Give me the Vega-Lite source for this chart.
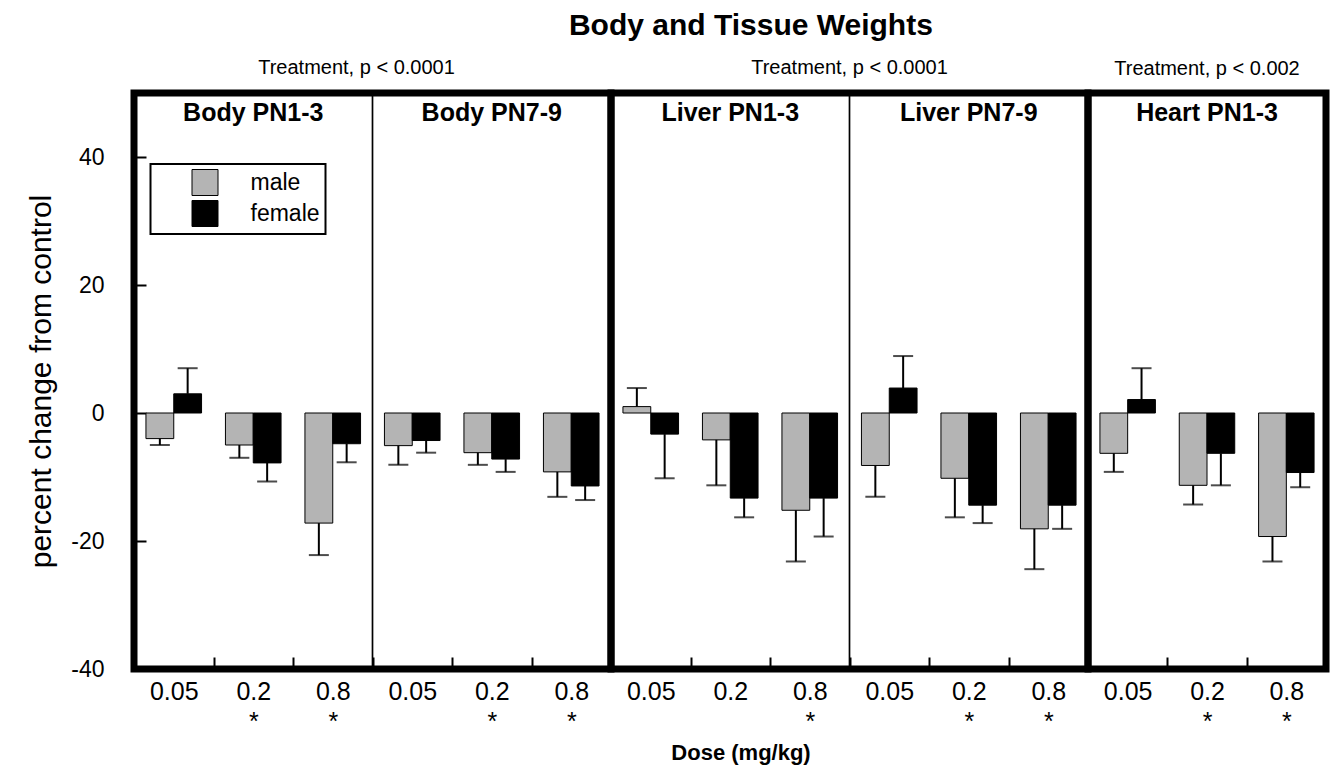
{
  "$schema": "https://vega.github.io/schema/vega-lite/v6.json",
  "background": "white",
  "padding": {"left": 23, "top": 10, "right": 5, "bottom": 5},
  "title": {"text": "Body and Tissue Weights", "fontSize": 30, "fontWeight": "bold", "anchor": "middle", "offset": 14, "dx": 74, "color": "black", "font": "Liberation Sans"},
  "spacing": 0,
  "bounds": "flush",
  "datasets": {
    "weights": [
      {"group": "Body", "panel": "Body PN1-3", "dose": "0.05", "slot": "Body PN1-3|0.05|", "sex": "male", "value": -4, "err": -5},
      {"group": "Body", "panel": "Body PN1-3", "dose": "0.05", "slot": "Body PN1-3|0.05|", "sex": "female", "value": 3, "err": 7},
      {"group": "Body", "panel": "Body PN1-3", "dose": "0.2", "slot": "Body PN1-3|0.2|*", "sex": "male", "value": -5, "err": -7},
      {"group": "Body", "panel": "Body PN1-3", "dose": "0.2", "slot": "Body PN1-3|0.2|*", "sex": "female", "value": -7.8, "err": -10.7},
      {"group": "Body", "panel": "Body PN1-3", "dose": "0.8", "slot": "Body PN1-3|0.8|*", "sex": "male", "value": -17.2, "err": -22.2},
      {"group": "Body", "panel": "Body PN1-3", "dose": "0.8", "slot": "Body PN1-3|0.8|*", "sex": "female", "value": -4.8, "err": -7.7},
      {"group": "Body", "panel": "Body PN7-9", "dose": "0.05", "slot": "Body PN7-9|0.05|", "sex": "male", "value": -5.1, "err": -8.1},
      {"group": "Body", "panel": "Body PN7-9", "dose": "0.05", "slot": "Body PN7-9|0.05|", "sex": "female", "value": -4.3, "err": -6.2},
      {"group": "Body", "panel": "Body PN7-9", "dose": "0.2", "slot": "Body PN7-9|0.2|*", "sex": "male", "value": -6.2, "err": -8.1},
      {"group": "Body", "panel": "Body PN7-9", "dose": "0.2", "slot": "Body PN7-9|0.2|*", "sex": "female", "value": -7.2, "err": -9.2},
      {"group": "Body", "panel": "Body PN7-9", "dose": "0.8", "slot": "Body PN7-9|0.8|*", "sex": "male", "value": -9.2, "err": -13.1},
      {"group": "Body", "panel": "Body PN7-9", "dose": "0.8", "slot": "Body PN7-9|0.8|*", "sex": "female", "value": -11.4, "err": -13.6},
      {"group": "Liver", "panel": "Liver PN1-3", "dose": "0.05", "slot": "Liver PN1-3|0.05|", "sex": "male", "value": 1, "err": 3.9},
      {"group": "Liver", "panel": "Liver PN1-3", "dose": "0.05", "slot": "Liver PN1-3|0.05|", "sex": "female", "value": -3.3, "err": -10.2},
      {"group": "Liver", "panel": "Liver PN1-3", "dose": "0.2", "slot": "Liver PN1-3|0.2|", "sex": "male", "value": -4.2, "err": -11.3},
      {"group": "Liver", "panel": "Liver PN1-3", "dose": "0.2", "slot": "Liver PN1-3|0.2|", "sex": "female", "value": -13.3, "err": -16.3},
      {"group": "Liver", "panel": "Liver PN1-3", "dose": "0.8", "slot": "Liver PN1-3|0.8|*", "sex": "male", "value": -15.2, "err": -23.2},
      {"group": "Liver", "panel": "Liver PN1-3", "dose": "0.8", "slot": "Liver PN1-3|0.8|*", "sex": "female", "value": -13.3, "err": -19.3},
      {"group": "Liver", "panel": "Liver PN7-9", "dose": "0.05", "slot": "Liver PN7-9|0.05|", "sex": "male", "value": -8.2, "err": -13.1},
      {"group": "Liver", "panel": "Liver PN7-9", "dose": "0.05", "slot": "Liver PN7-9|0.05|", "sex": "female", "value": 3.9, "err": 8.9},
      {"group": "Liver", "panel": "Liver PN7-9", "dose": "0.2", "slot": "Liver PN7-9|0.2|*", "sex": "male", "value": -10.2, "err": -16.3},
      {"group": "Liver", "panel": "Liver PN7-9", "dose": "0.2", "slot": "Liver PN7-9|0.2|*", "sex": "female", "value": -14.4, "err": -17.2},
      {"group": "Liver", "panel": "Liver PN7-9", "dose": "0.8", "slot": "Liver PN7-9|0.8|*", "sex": "male", "value": -18.1, "err": -24.4},
      {"group": "Liver", "panel": "Liver PN7-9", "dose": "0.8", "slot": "Liver PN7-9|0.8|*", "sex": "female", "value": -14.4, "err": -18.1},
      {"group": "Heart", "panel": "Heart PN1-3", "dose": "0.05", "slot": "Heart PN1-3|0.05|", "sex": "male", "value": -6.3, "err": -9.2},
      {"group": "Heart", "panel": "Heart PN1-3", "dose": "0.05", "slot": "Heart PN1-3|0.05|", "sex": "female", "value": 2.1, "err": 7},
      {"group": "Heart", "panel": "Heart PN1-3", "dose": "0.2", "slot": "Heart PN1-3|0.2|*", "sex": "male", "value": -11.3, "err": -14.3},
      {"group": "Heart", "panel": "Heart PN1-3", "dose": "0.2", "slot": "Heart PN1-3|0.2|*", "sex": "female", "value": -6.3, "err": -11.3},
      {"group": "Heart", "panel": "Heart PN1-3", "dose": "0.8", "slot": "Heart PN1-3|0.8|*", "sex": "male", "value": -19.3, "err": -23.2},
      {"group": "Heart", "panel": "Heart PN1-3", "dose": "0.8", "slot": "Heart PN1-3|0.8|*", "sex": "female", "value": -9.3, "err": -11.6}
    ]
  },
  "resolve": {"scale": {"x": "independent", "xOffset": "independent", "y": "independent", "fill": "independent"}, "legend": {"fill": "independent"}},
  "hconcat": [
    {
      "width": 477, "height": 576,
      "title": {"text": "Treatment, p < 0.0001", "fontSize": 20, "fontWeight": "normal", "dx": -16, "offset": 14, "color": "black"},
      "data": {"name": "weights"},
      "transform": [{"filter": "datum.group === 'Body'"}],
      "encoding": {
        "x": {"field": "slot", "type": "nominal", "sort": null, "scale": {"paddingInner": 0, "paddingOuter": 0},
              "axis": {"title": null, "labelExpr": "[split(datum.value, '|')[1], split(datum.value, '|')[2]]"}}
      },
      "layer": [
        {"mark": {"type": "rule", "color": "black", "strokeWidth": 1.5}, "encoding": {"y": {"datum": 0, "type": "quantitative", "scale": {"domain": [-40, 50], "nice": false, "zero": false}, "axis": {"values": [-40, -20, 0, 20, 40], "title": "percent change from control", "labelExpr": "datum.value < 0 ? '-' + abs(datum.value) : '' + datum.value"}}}},
        {"mark": {"type": "bar", "stroke": "black", "strokeWidth": 1},
         "encoding": {
           "xOffset": {"field": "sex", "type": "nominal", "sort": ["male", "female"], "scale": {"paddingOuter": 0.43, "paddingInner": 0}},
           "y": {"field": "value", "type": "quantitative"},
           "fill": {"field": "sex", "type": "nominal", "sort": ["male", "female"], "scale": {"domain": ["male", "female"], "range": ["#b4b4b4", "black"]},
                    "legend": {"orient": "none", "legendX": 16.5, "legendY": 71, "title": null, "symbolType": "square", "symbolSize": 676, "symbolStrokeColor": "black", "symbolStrokeWidth": 1, "labelFontSize": 23, "padding": 5, "strokeColor": "black", "fillColor": "white", "symbolOffset": 36, "labelOffset": 32, "rowPadding": 0, "labelColor": "black"}}
         }},
        {"mark": {"type": "rule", "color": "black", "strokeWidth": 2},
         "encoding": {"xOffset": {"field": "sex", "type": "nominal", "sort": ["male", "female"]}, "y": {"field": "value", "type": "quantitative"}, "y2": {"field": "err"}}},
        {"mark": {"type": "tick", "color": "black", "thickness": 2, "size": 20},
         "encoding": {"xOffset": {"field": "sex", "type": "nominal", "sort": ["male", "female"]}, "y": {"field": "err", "type": "quantitative"}}},
        {"transform": [{"filter": "datum.dose === '0.05' && datum.sex === 'male' && datum.panel === 'Body PN7-9'"}],
         "mark": {"type": "rule", "color": "black", "strokeWidth": 1.7},
         "encoding": {"x": {"field": "slot", "type": "nominal", "bandPosition": 0}}},
        {"transform": [{"filter": "datum.dose === '0.2' && datum.sex === 'male'"}],
         "mark": {"type": "text", "fontSize": 25, "fontWeight": "bold", "baseline": "middle", "color": "black"},
         "encoding": {"text": {"field": "panel"}, "y": {"datum": 46.9, "type": "quantitative"}}}
      ]
    },
    {
      "width": 477, "height": 576,
      "title": {"text": "Treatment, p < 0.0001", "fontSize": 20, "fontWeight": "normal", "offset": 14, "color": "black"},
      "data": {"name": "weights"},
      "transform": [{"filter": "datum.group === 'Liver'"}],
      "encoding": {
        "x": {"field": "slot", "type": "nominal", "sort": null, "scale": {"paddingInner": 0, "paddingOuter": 0},
              "axis": {"title": "Dose (mg/kg)", "titleX": 129.5, "labelExpr": "[split(datum.value, '|')[1], split(datum.value, '|')[2]]"}}
      },
      "layer": [
        {"mark": {"type": "rule", "color": "black", "strokeWidth": 1.5}, "encoding": {"y": {"datum": 0, "type": "quantitative", "scale": {"domain": [-40, 50], "nice": false, "zero": false}, "axis": null}}},
        {"mark": {"type": "bar", "stroke": "black", "strokeWidth": 1},
         "encoding": {
           "xOffset": {"field": "sex", "type": "nominal", "sort": ["male", "female"], "scale": {"paddingOuter": 0.43, "paddingInner": 0}},
           "y": {"field": "value", "type": "quantitative"},
           "fill": {"field": "sex", "type": "nominal", "sort": ["male", "female"], "scale": {"domain": ["male", "female"], "range": ["#b4b4b4", "black"]}, "legend": null}
         }},
        {"mark": {"type": "rule", "color": "black", "strokeWidth": 2},
         "encoding": {"xOffset": {"field": "sex", "type": "nominal", "sort": ["male", "female"]}, "y": {"field": "value", "type": "quantitative"}, "y2": {"field": "err"}}},
        {"mark": {"type": "tick", "color": "black", "thickness": 2, "size": 20},
         "encoding": {"xOffset": {"field": "sex", "type": "nominal", "sort": ["male", "female"]}, "y": {"field": "err", "type": "quantitative"}}},
        {"transform": [{"filter": "datum.dose === '0.05' && datum.sex === 'male' && datum.panel === 'Liver PN7-9'"}],
         "mark": {"type": "rule", "color": "black", "strokeWidth": 1.7},
         "encoding": {"x": {"field": "slot", "type": "nominal", "bandPosition": 0}}},
        {"transform": [{"filter": "datum.dose === '0.2' && datum.sex === 'male'"}],
         "mark": {"type": "text", "fontSize": 25, "fontWeight": "bold", "baseline": "middle", "color": "black"},
         "encoding": {"text": {"field": "panel"}, "y": {"datum": 46.9, "type": "quantitative"}}}
      ]
    },
    {
      "width": 238, "height": 576,
      "title": {"text": "Treatment, p < 0.002", "fontSize": 20, "fontWeight": "normal", "offset": 14, "color": "black"},
      "data": {"name": "weights"},
      "transform": [{"filter": "datum.group === 'Heart'"}],
      "encoding": {
        "x": {"field": "slot", "type": "nominal", "sort": null, "scale": {"paddingInner": 0, "paddingOuter": 0},
              "axis": {"title": null, "labelExpr": "[split(datum.value, '|')[1], split(datum.value, '|')[2]]"}}
      },
      "layer": [
        {"mark": {"type": "rule", "color": "black", "strokeWidth": 1.5}, "encoding": {"y": {"datum": 0, "type": "quantitative", "scale": {"domain": [-40, 50], "nice": false, "zero": false}, "axis": null}}},
        {"mark": {"type": "bar", "stroke": "black", "strokeWidth": 1},
         "encoding": {
           "xOffset": {"field": "sex", "type": "nominal", "sort": ["male", "female"], "scale": {"paddingOuter": 0.43, "paddingInner": 0}},
           "y": {"field": "value", "type": "quantitative"},
           "fill": {"field": "sex", "type": "nominal", "sort": ["male", "female"], "scale": {"domain": ["male", "female"], "range": ["#b4b4b4", "black"]}, "legend": null}
         }},
        {"mark": {"type": "rule", "color": "black", "strokeWidth": 2},
         "encoding": {"xOffset": {"field": "sex", "type": "nominal", "sort": ["male", "female"]}, "y": {"field": "value", "type": "quantitative"}, "y2": {"field": "err"}}},
        {"mark": {"type": "tick", "color": "black", "thickness": 2, "size": 20},
         "encoding": {"xOffset": {"field": "sex", "type": "nominal", "sort": ["male", "female"]}, "y": {"field": "err", "type": "quantitative"}}},
        {"transform": [{"filter": "datum.dose === '0.2' && datum.sex === 'male'"}],
         "mark": {"type": "text", "fontSize": 25, "fontWeight": "bold", "baseline": "middle", "color": "black"},
         "encoding": {"text": {"field": "panel"}, "y": {"datum": 46.9, "type": "quantitative"}}}
      ]
    }
  ],
  "config": {
    "font": "Liberation Sans",
    "view": {"stroke": "black", "strokeWidth": 7},
    "axis": {"grid": false, "domain": false, "labelColor": "black", "titleColor": "black", "tickColor": "black", "tickWidth": 2},
    "axisX": {"labelAngle": 0, "tickBand": "extent", "tickSize": -12, "labelFontSize": 25, "labelPadding": 22, "labelLineHeight": 30, "titleFontSize": 22, "titleFontWeight": "bold", "titlePadding": 8},
    "axisY": {"offset": -12, "tickSize": 12, "labelFontSize": 23, "labelPadding": 30, "titleFontSize": 30, "titleFontWeight": "normal", "titlePadding": 14},
    "legend": {"strokeWidth": 2}
  }
}
